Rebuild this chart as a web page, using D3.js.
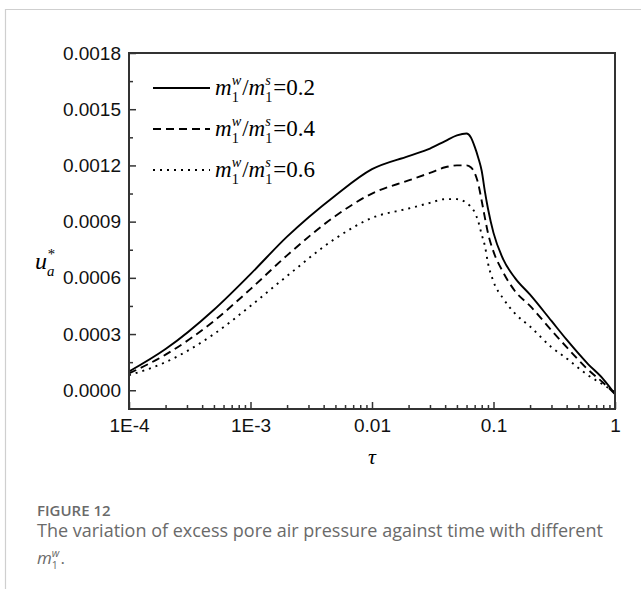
<!DOCTYPE html>
<html>
<head>
<meta charset="utf-8">
<script src="https://cdn.jsdelivr.net/npm/d3@7"></script>
<style>
  body { margin: 0; background: #fff; }
  svg { display: block; }
</style>
</head>
<body>
<div id="chart"></div>
<script>
"use strict";

// values
var tau = [1e-4, 2e-4, 5e-4, 1e-3, 2e-3, 5e-3, 0.01, 0.02, 0.03, 0.04, 0.05, 0.06, 0.065,
  0.07, 0.075, 0.08, 0.085, 0.09, 0.1, 0.12, 0.15, 0.2, 0.3, 0.4, 0.6, 0.8, 1];
var u02 = [0.0001, 0.00022, 0.00043, 0.00062, 0.00082, 0.00104, 0.00118, 0.00125, 0.00129, 0.00133,
  0.00136, 0.00137, 0.00135, 0.0013, 0.00124, 0.00117, 0.00106, 0.00097, 0.00084, 0.0007,
  0.0006, 0.00051, 0.00037, 0.00027, 0.00014, 0.00006, -0.00002];
var u04 = [0.00009, 0.00019, 0.00037, 0.00054, 0.00072, 0.00093, 0.00105, 0.00112, 0.00116, 0.00119,
  0.0012, 0.0012, 0.00119, 0.00116, 0.0011, 0.00101, 0.00092, 0.00084, 0.00074, 0.00063,
  0.00053, 0.00045, 0.00032, 0.00023, 0.00011, 0.00004, -0.00002];
var u06 = [0.00008, 0.00015, 0.0003, 0.00045, 0.00061, 0.00081, 0.00092, 0.00097, 0.001, 0.00102,
  0.00102, 0.001, 0.00098, 0.00095, 0.0009, 0.00083, 0.00077, 0.00068, 0.00058, 0.00049,
  0.00041, 0.00034, 0.00023, 0.00017, 0.00008, 0.00003, -0.00001];

var ratios = ["0.2", "0.4", "0.6"];
var xTicks = [1e-4, 1e-3, 0.01, 0.1, 1];
var xTickLabels = ["1E-4", "1E-3", "0.01", "0.1", "1"];
var yTicks = [0, 0.0003, 0.0006, 0.0009, 0.0012, 0.0015, 0.0018];
var yTickLabels = ["0.0000", "0.0003", "0.0006", "0.0009", "0.0012", "0.0015", "0.0018"];

var width = 641, height = 589;
var margin = {left: 129, right: 26, top: 53, bottom: 180};
var dashes = [null, "8,5", "2,5"];

var svg = d3.select("#chart").append("svg")
  .attr("width", width)
  .attr("height", height);

// page frame
svg.append("path")
  .attr("d", "M5.5," + height + "V9.5H" + width)
  .attr("fill", "none")
  .attr("stroke", "#cfcfcf")
  .attr("stroke-width", 1.2);

var x = d3.scaleLog().domain([1e-4, 1]).range([margin.left, width - margin.right]);
var y = d3.scaleLinear().domain([-0.0001, 0.0018]).range([height - margin.bottom, margin.top]);

var sans = "'Liberation Sans', Arial, sans-serif";
var serif = "'Liberation Serif', 'Times New Roman', serif";

svg.append("clipPath").attr("id", "clip")
  .append("rect")
  .attr("x", x(1e-4)).attr("y", y(0.0018))
  .attr("width", x(1) - x(1e-4)).attr("height", y(-0.0001) - y(0.0018));

var series = [u02, u04, u06];
var line = d3.line()
  .x(function(d, i) { return x(tau[i]); })
  .y(function(d) { return y(d); })
  .curve(d3.curveMonotoneX);

svg.append("g")
  .attr("clip-path", "url(#clip)")
  .selectAll("path")
  .data(series)
  .enter().append("path")
  .attr("d", line)
  .attr("fill", "none")
  .attr("stroke", "#000")
  .attr("stroke-width", 1.9)
  .attr("stroke-dasharray", function(d, i) { return dashes[i]; });

// axes
var yMinor = d3.range(0.00015, 0.0018, 0.0003);
var xMinor = [];
[1e-4, 1e-3, 0.01, 0.1].forEach(function(dec) {
  for (var k = 2; k <= 9; k++) xMinor.push(dec * k);
});

svg.append("g")
  .attr("transform", "translate(" + margin.left + ",0)")
  .call(d3.axisLeft(y).tickValues(yTicks)
    .tickFormat(function(d, i) { return yTickLabels[i]; })
    .tickSize(-7).tickPadding(8));
svg.append("g")
  .attr("transform", "translate(" + margin.left + ",0)")
  .call(d3.axisLeft(y).tickValues(yMinor).tickFormat("").tickSize(-4));

svg.append("g")
  .attr("transform", "translate(0," + y(-0.0001) + ")")
  .call(d3.axisBottom(x).tickValues(xTicks)
    .tickFormat(function(d, i) { return xTickLabels[i]; })
    .tickSize(-7).tickPadding(10));
svg.append("g")
  .attr("transform", "translate(0," + y(-0.0001) + ")")
  .call(d3.axisBottom(x).tickValues(xMinor).tickFormat("").tickSize(-4));

svg.selectAll(".domain").remove();
svg.selectAll(".tick line").attr("stroke", "#333").attr("stroke-width", 1.5);
svg.selectAll(".tick text")
  .attr("font-family", sans)
  .attr("font-size", 19)
  .attr("fill", "#111");

svg.append("rect")
  .attr("x", x(1e-4)).attr("y", y(0.0018))
  .attr("width", x(1) - x(1e-4)).attr("height", y(-0.0001) - y(0.0018))
  .attr("fill", "none")
  .attr("stroke", "#333")
  .attr("stroke-width", 2);

// math label helper: parts are [text, italic] or {sup, sub}
function mathText(g, x0, y0, size, parts, font) {
  var cx = x0;
  font = font || serif;
  parts.forEach(function(p) {
    if (p.sup !== undefined) {
      var small = size * 0.62;
      var a = g.append("text").attr("x", cx).attr("y", y0 - size * 0.42)
        .attr("font-family", font).attr("font-size", small).attr("font-style", "italic").text(p.sup);
      var b = g.append("text").attr("x", cx).attr("y", y0 + size * 0.3)
        .attr("font-family", font).attr("font-size", small).attr("font-style", p.subItalic ? "italic" : "normal").text(p.sub);
      cx += Math.max(a.node().getComputedTextLength(), b.node().getComputedTextLength()) + 1;
    } else {
      var t = g.append("text").attr("x", cx).attr("y", y0)
        .attr("font-family", font).attr("font-size", size)
        .attr("font-style", p[1] ? "italic" : "normal").text(p[0]);
      cx += t.node().getComputedTextLength();
    }
  });
  return cx;
}

// legend
var legend = svg.append("g");
ratios.forEach(function(r, i) {
  var ly = 88 + i * 41;
  legend.append("line")
    .attr("x1", 153).attr("x2", 210)
    .attr("y1", ly).attr("y2", ly)
    .attr("stroke", "#000").attr("stroke-width", 1.9)
    .attr("stroke-dasharray", dashes[i]);
  mathText(legend, 215, ly + 7, 23, [
    ["m", true], {sup: "w", sub: "1"}, ["/", false],
    ["m", true], {sup: "s", sub: "1"}, ["=" + r, false]
  ]);
});

// axis titles
var yl = svg.append("g");
mathText(yl, 35, 269, 24, [["u", true], {sup: "*", sub: "a", subItalic: true}]);

svg.append("text")
  .attr("x", (x(1e-4) + x(1)) / 2)
  .attr("y", 464)
  .attr("text-anchor", "middle")
  .attr("font-family", serif)
  .attr("font-style", "italic")
  .attr("font-size", 22)
  .text("\u03c4");

// caption
var capFont = "'Open Sans', 'Noto Sans', sans-serif";
var cap = svg.append("g").attr("font-family", capFont).attr("fill", "#6a6a6a");
cap.append("text").attr("x", 37).attr("y", 516)
  .attr("font-size", 15).attr("font-weight", 600)
  .text("FIGURE 12");
cap.append("text").attr("x", 37).attr("y", 537)
  .attr("font-size", 18)
  .text("The variation of excess pore air pressure against time with different");
mathText(cap, 37, 564, 17, [["m", true], {sup: "w", sub: "1"}, [".", false]], capFont);
</script>
</body>
</html>
